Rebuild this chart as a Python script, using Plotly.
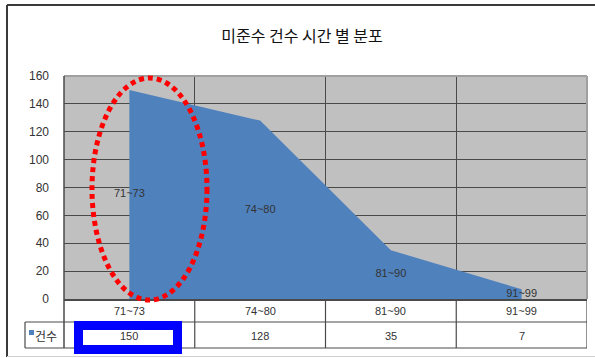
import plotly.graph_objects as go

# Chart data
categories = ["71~73", "74~80", "81~90", "91~99"]
counts = [150, 128, 35, 7]
series_name = "건수"
title_text = "미준수 건수 시간 별 분포"
y_ticks = [0, 20, 40, 60, 80, 100, 120, 140, 160]

W, H = 595, 358
M_L, M_R, M_T, M_B = 64, 8, 76, 59
PW, PH = W - M_L - M_R, H - M_T - M_B

AREA = "#4F81BD"
GRID = "#4A4A4A"
TEXT = "#333333"
FONT = "Liberation Sans, Noto Sans CJK KR, sans-serif"


def px_x(px):
    return (px - M_L) / PW


def px_y(py):
    return (H - M_B - py) / PH


xs = list(range(len(categories)))

fig = go.Figure()

fig.add_trace(go.Scatter(
    x=xs, y=counts, mode="lines", fill="tozeroy",
    fillcolor=AREA, line=dict(width=0, color=AREA),
    name=series_name, showlegend=False, hoverinfo="skip",
))

# Category labels placed at mid-height of each point
fig.add_trace(go.Scatter(
    x=xs, y=[v / 2 for v in counts], mode="text", text=categories,
    textposition="middle center", textfont=dict(size=11, color=TEXT, family=FONT),
    showlegend=False, hoverinfo="skip", cliponaxis=False,
))

shapes = []
annotations = []

# Plot border (top and right)
shapes.append(dict(type="line", xref="paper", yref="paper", x0=0, x1=1, y0=1, y1=1,
                   line=dict(color="#A0A0A0", width=2)))
shapes.append(dict(type="line", xref="paper", yref="paper", x0=1, x1=1, y0=0, y1=1,
                   line=dict(color="#A0A0A0", width=2)))

# Data table underneath the axis
row1_y = px_y(322)
row2_y = px_y(348)
n = len(categories)
shapes.append(dict(type="line", xref="paper", yref="paper", x0=0, x1=0,
                   y0=row2_y, y1=1, line=dict(color=GRID, width=1.5)))
for b in range(1, n + 1):
    shapes.append(dict(type="line", xref="x", yref="paper", x0=b - 0.5, x1=b - 0.5,
                       y0=row2_y, y1=0, line=dict(color=GRID, width=1.2)))
shapes.append(dict(type="line", xref="paper", yref="paper", x0=px_x(25), x1=1,
                   y0=row1_y, y1=row1_y, line=dict(color=GRID, width=1.2)))
shapes.append(dict(type="line", xref="paper", yref="paper", x0=px_x(25), x1=1,
                   y0=row2_y, y1=row2_y, line=dict(color=GRID, width=1.2)))
shapes.append(dict(type="line", xref="paper", yref="paper", x0=px_x(25), x1=px_x(25),
                   y0=row2_y, y1=row1_y, line=dict(color=GRID, width=1.2)))

cell_font = dict(size=11, color=TEXT, family=FONT)
for i, (c, v) in enumerate(zip(categories, counts)):
    annotations.append(dict(x=i, y=px_y(311), xref="x", yref="paper", text=c,
                            xanchor="center", yanchor="middle",
                            showarrow=False, font=cell_font))
    annotations.append(dict(x=i, y=px_y(336), xref="x", yref="paper", text=str(v),
                            xanchor="center", yanchor="middle",
                            showarrow=False, font=cell_font))

# Legend key in the table
shapes.append(dict(type="rect", xref="paper", yref="paper", x0=px_x(29), x1=px_x(34),
                   y0=px_y(335), y1=px_y(330), fillcolor=AREA, line=dict(width=0)))
annotations.append(dict(x=px_x(46), y=px_y(335), xref="paper", yref="paper", text=series_name,
                        xanchor="center", yanchor="middle",
                        showarrow=False, font=dict(size=12, color=TEXT, family="Noto Sans CJK KR")))

# Outer frame
shapes.append(dict(type="line", xref="paper", yref="paper", x0=px_x(7), x1=px_x(600),
                   y0=px_y(5), y1=px_y(5), line=dict(color="#3A3A3A", width=2)))
shapes.append(dict(type="line", xref="paper", yref="paper", x0=px_x(7), x1=px_x(7),
                   y0=px_y(357), y1=px_y(5), line=dict(color="#3A3A3A", width=2)))
shapes.append(dict(type="line", xref="paper", yref="paper", x0=px_x(7), x1=px_x(600),
                   y0=px_y(356.5), y1=px_y(356.5), line=dict(color="#D0D0D0", width=1)))

# Highlight of the first interval
shapes.append(dict(type="circle", xref="paper", yref="paper",
                   x0=px_x(92), x1=px_x(207), y0=px_y(300), y1=px_y(78),
                   line=dict(color="#FF0000", width=5, dash="5px,4px")))
shapes.append(dict(type="rect", xref="paper", yref="paper",
                   x0=px_x(78.5), x1=px_x(177.5), y0=px_y(349.5), y1=px_y(325.5),
                   line=dict(color="#0000FF", width=9)))

fig.update_layout(
    width=W, height=H,
    margin=dict(l=M_L, r=M_R, t=M_T, b=M_B),
    paper_bgcolor="white", plot_bgcolor="#C0C0C0",
    title=dict(text=title_text, x=302 / W, xanchor="center",
               y=1 - 36 / H, yanchor="middle",
               font=dict(size=16, color="#111111", family="Noto Sans CJK KR")),
    xaxis=dict(range=[-0.5, n - 0.5], tickmode="linear", tick0=0.5, dtick=1,
               showticklabels=False, showgrid=True, gridcolor=GRID, gridwidth=1.2,
               zeroline=False, showline=True, linecolor=GRID, linewidth=1.5, ticks=""),
    yaxis=dict(range=[0, 160], tickvals=y_ticks, showgrid=True, gridcolor=GRID,
               gridwidth=1.2, zeroline=False, showline=False, ticks="",
               ticklabelstandoff=14,
               tickfont=dict(size=12, color=TEXT, family=FONT)),
    shapes=shapes, annotations=annotations,
    showlegend=False,
)

fig.write_html("out.html")
